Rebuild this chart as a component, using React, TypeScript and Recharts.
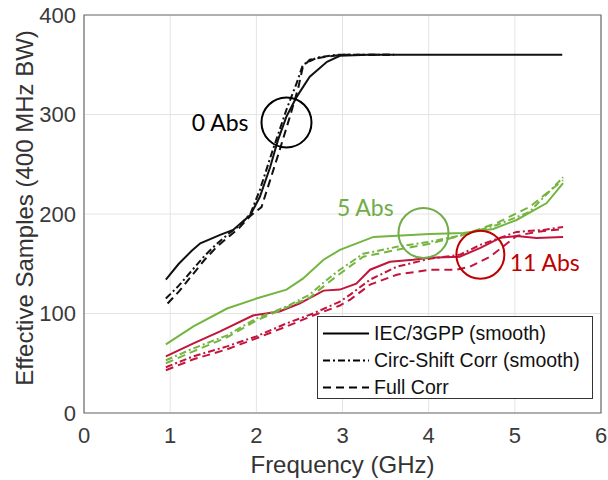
import React from "react";
import {
  LineChart,
  Line,
  XAxis,
  YAxis,
  CartesianGrid,
  ReferenceArea,
  ReferenceDot,
  Legend,
} from "recharts";

// Frequency ticks (GHz) and effective-sample ticks
const freqTicks = [0, 1, 2, 3, 4, 5, 6];
const sampleTicks = [0, 100, 200, 300, 400];

// [frequency GHz, effective samples] — 0 absorbers
const abs0Iec: [number, number][] = [
  [0.95, 134], [1.1, 150], [1.25, 163], [1.35, 170.5], [1.58, 179], [1.73, 184],
  [1.93, 199], [2.04, 217], [2.16, 247], [2.25, 274], [2.35, 298], [2.47, 318],
  [2.62, 338], [2.82, 353], [2.97, 359], [3.3, 360], [4.0, 360], [5.55, 360],
];
const abs0Circ: [number, number][] = [
  [0.95, 115], [1.1, 128], [1.25, 143], [1.4, 158], [1.54, 170], [1.69, 181],
  [1.8, 188], [1.93, 200], [2.04, 224], [2.19, 264], [2.35, 305], [2.47, 332],
  [2.54, 350], [2.7, 357], [2.93, 360], [3.6, 360],
];
const abs0Full: [number, number][] = [
  [0.97, 110], [1.1, 122], [1.25, 138], [1.4, 154], [1.54, 167], [1.69, 178],
  [1.8, 186], [1.93, 198], [2.06, 207], [2.16, 234], [2.27, 264], [2.39, 298],
  [2.49, 328], [2.54, 348], [2.62, 355], [2.8, 358], [3.0, 360], [3.6, 360],
];

// 5 absorbers
const abs5Iec: [number, number][] = [
  [0.95, 69], [1.27, 87], [1.66, 105], [2.0, 115], [2.35, 124], [2.54, 135],
  [2.78, 154], [2.97, 164], [3.09, 168], [3.36, 177], [4.01, 180], [4.4, 181],
  [4.75, 185], [5.02, 194], [5.37, 211], [5.56, 231],
];
const abs5Circ: [number, number][] = [
  [0.95, 53], [1.27, 65], [1.66, 78], [2.0, 95], [2.35, 107], [2.62, 119],
  [2.82, 134], [2.97, 144], [3.24, 160], [3.63, 167], [4.01, 172], [4.4, 179],
  [4.79, 189], [5.17, 202], [5.56, 237],
];
const abs5Full: [number, number][] = [
  [0.95, 50], [1.27, 62], [1.66, 76], [2.0, 93], [2.35, 106], [2.62, 116],
  [2.82, 130], [2.97, 140], [3.24, 157], [3.63, 164], [4.01, 170], [4.4, 179],
  [4.79, 191], [5.17, 207], [5.56, 234],
];

// 11 absorbers
const abs11Iec: [number, number][] = [
  [0.95, 57], [1.27, 70], [1.58, 82], [1.96, 98], [2.27, 102], [2.5, 110],
  [2.78, 123], [2.97, 124], [3.16, 130], [3.32, 144], [3.55, 152], [3.82, 154],
  [4.01, 156], [4.36, 157], [4.6, 166], [4.83, 176], [5.02, 178], [5.25, 176],
  [5.56, 177],
];
const abs11Circ: [number, number][] = [
  [0.95, 46], [1.27, 57], [1.66, 67], [2.0, 77], [2.35, 90], [2.66, 100],
  [2.97, 112], [3.09, 119], [3.32, 134], [3.63, 147], [4.01, 155], [4.36, 159],
  [4.6, 169], [4.86, 177], [5.02, 182], [5.33, 184], [5.56, 187],
];
const abs11Full: [number, number][] = [
  [0.95, 43], [1.27, 54], [1.66, 64], [2.0, 75], [2.35, 87], [2.66, 98],
  [2.97, 108], [3.09, 114], [3.32, 129], [3.63, 139], [4.01, 144], [4.32, 144],
  [4.48, 147], [4.71, 157], [4.86, 167], [5.02, 178], [5.25, 182], [5.56, 185],
];

// Annotation circles and labels (data coordinates)
const groupCircles = [
  { x: 2.35, y: 292, r: 25, color: "#000000" },
  { x: 3.94, y: 181, r: 25, color: "#70ad47" },
  { x: 4.6, y: 159, r: 24, color: "#c00000" },
];
const groupLabels = [
  { text: "0 Abs", x: 1.91, y: 292, anchor: "end", color: "#000000" },
  { text: "5 Abs", x: 2.935, y: 207, anchor: "start", color: "#70ad47" },
  { text: "11 Abs", x: 4.94, y: 152, anchor: "start", color: "#c00000" },
];

const legendNames = ["IEC/3GPP (smooth)", "Circ-Shift Corr (smooth)", "Full Corr"];

const BLACK = "#111111";
const GREEN = "#74b540";
const RED = "#c2143c";
const SOLID = undefined;
const DASH_DOT = "7 3 2 3";
const DASHED = "8 5";
const dashes = [SOLID, DASH_DOT, DASHED];

const toPoints = (pairs: [number, number][]) => pairs.map(([x, y]) => ({ x, y }));

const series = [
  { key: "a11i", pts: abs11Iec, color: RED, dash: SOLID },
  { key: "a11c", pts: abs11Circ, color: RED, dash: DASH_DOT },
  { key: "a11f", pts: abs11Full, color: RED, dash: DASHED },
  { key: "a5i", pts: abs5Iec, color: GREEN, dash: SOLID },
  { key: "a5c", pts: abs5Circ, color: GREEN, dash: DASH_DOT },
  { key: "a5f", pts: abs5Full, color: GREEN, dash: DASHED },
  { key: "a0i", pts: abs0Iec, color: BLACK, dash: SOLID },
  { key: "a0c", pts: abs0Circ, color: BLACK, dash: DASH_DOT },
  { key: "a0f", pts: abs0Full, color: BLACK, dash: DASHED },
];

const AXIS_FONT = "'Liberation Sans', Arial, sans-serif";
const NOTE_FONT = "Lato, 'Open Sans', sans-serif";

const LegendBox = () => (
  <div
    style={{
      width: 276,
      height: 83,
      boxSizing: "border-box",
      border: "1px solid #333",
      background: "#fff",
      paddingTop: 3,
      fontFamily: AXIS_FONT,
      fontSize: 19.5,
      color: "#111",
    }}
  >
    {legendNames.map((name, i) => (
      <div key={name} style={{ height: 27, display: "flex", alignItems: "center" }}>
        <svg width={56} height={27} style={{ flex: "none" }}>
          <line
            x1={5}
            x2={51}
            y1={13.5}
            y2={13.5}
            stroke="#000"
            strokeWidth={2}
            strokeDasharray={dashes[i]}
          />
        </svg>
        <span style={{ whiteSpace: "nowrap", lineHeight: "27px" }}>{name}</span>
      </div>
    ))}
  </div>
);

export default function App() {
  return (
    <div style={{ position: "absolute", left: 0, top: 0, width: 608, height: 480, background: "#fff" }}>
      <LineChart
        width={608}
        height={480}
        margin={{ top: 15, right: 7, bottom: 0, left: 0 }}
      >
        <CartesianGrid stroke="#e4e4e4" strokeWidth={1} />
        <XAxis
          dataKey="x"
          type="number"
          domain={[0, 6]}
          ticks={freqTicks}
          allowDataOverflow
          height={67}
          axisLine={false}
          tickLine={false}
          tickMargin={8}
          tick={{ fontSize: 22, fill: "#3a3a3a", fontFamily: AXIS_FONT }}
          label={(props: any) => {
            const vb = props.viewBox || { x: 84, width: 517 };
            return (
              <text
                x={vb.x + vb.width / 2}
                y={473}
                textAnchor="middle"
                fontSize={24}
                fill="#333"
                fontFamily={AXIS_FONT}
              >
                Frequency (GHz)
              </text>
            );
          }}
        />
        <YAxis
          dataKey="y"
          type="number"
          domain={[0, 400]}
          ticks={sampleTicks}
          allowDataOverflow
          width={84}
          axisLine={false}
          tickLine={false}
          tick={{ fontSize: 22, fill: "#3a3a3a", fontFamily: AXIS_FONT }}
          label={() => (
            <text
              x={33}
              y={208}
              transform="rotate(-90, 33, 208)"
              textAnchor="middle"
              fontSize={24}
              fill="#333"
              fontFamily={AXIS_FONT}
            >
              Effective Samples (400 MHz BW)
            </text>
          )}
        />
        <ReferenceArea
          x1={0}
          x2={6}
          y1={0}
          y2={400}
          fill="none"
          stroke="#6e6e6e"
          strokeWidth={1.2}
          isAnimationActive={false}
        />
        {series.map((s) => (
          <Line
            key={s.key}
            data={toPoints(s.pts)}
            dataKey="y"
            type="linear"
            stroke={s.color}
            strokeWidth={2}
            strokeDasharray={s.dash}
            dot={false}
            activeDot={false}
            legendType="none"
            isAnimationActive={false}
          />
        ))}
        {groupCircles.map((c, i) => (
          <ReferenceDot
            key={`c${i}`}
            x={c.x}
            y={c.y}
            r={c.r}
            fill="none"
            stroke={c.color}
            strokeWidth={2}
          />
        ))}
        {groupLabels.map((l, i) => (
          <ReferenceDot
            key={`l${i}`}
            x={l.x}
            y={l.y}
            r={0}
            shape={(p: any) => (
              <text
                x={p.cx}
                y={p.cy}
                textAnchor={l.anchor as any}
                dominantBaseline="central"
                fontSize={23}
                fill={l.color}
                fontFamily={NOTE_FONT}
              >
                {l.text}
              </text>
            )}
          />
        ))}
        <Legend
          layout="vertical"
          align="center"
          verticalAlign="middle"
          content={() => <LegendBox />}
          wrapperStyle={{ position: "absolute", left: 317, top: 316, width: 276, height: 83 }}
        />
      </LineChart>
    </div>
  );
}
